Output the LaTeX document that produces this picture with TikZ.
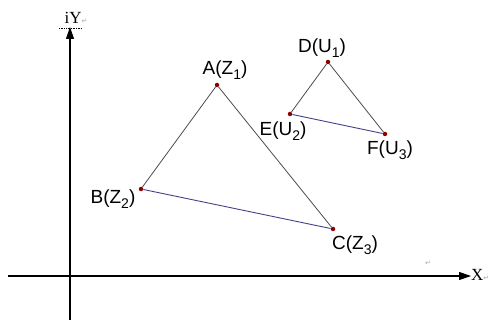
\documentclass[tikz,border=0pt]{standalone}
\usepackage{fontspec}
\setmainfont{Liberation Sans}
\newfontfamily\serifx{Liberation Serif}
\newfontfamily\symf{DejaVu Sans}
\usetikzlibrary{arrows.meta}
\newcommand{\sbx}[1]{\raisebox{-0.45ex}{\fontsize{14}{14}\selectfont #1}}
\newcommand{\pmark}{{\symf\fontsize{7}{7}\selectfont\color{gray!70}↵}}
\begin{document}
\begin{tikzpicture}[x=1pt,y=-1pt,
  axis/.style={line width=1.1pt,-{Triangle[length=12pt,width=8pt]}},
  side/.style={draw=gray!60!black,line width=0.8pt},
  base/.style={draw=blue!35!gray!80!black,line width=0.9pt},
  pt/.style={circle,fill=red!55!black,inner sep=0pt,minimum size=4.5pt},
  lbl/.style={font=\fontsize{19}{19}\selectfont,inner sep=0pt}]
\useasboundingbox (0,0) rectangle (492,320);
\coordinate (yb) at (70,320);
\coordinate (yt) at (70,27);
\coordinate (xl) at (8,276);
\coordinate (xr) at (471,276);
\draw[axis] (yb) -- (yt);
\draw[axis] (xl) -- (xr);
\node[inner sep=0pt,anchor=base,font=\serifx\fontsize{17}{17}\selectfont] (ylab) at (76,24) {iY\pmark};
\draw[densely dotted,line width=0.7pt] (59,28) -- (82,28);
\node[inner sep=0pt,anchor=west,font=\serifx\fontsize{17}{17}\selectfont] (xlab) at (471,275) {X\pmark};
\node[inner sep=0pt] (pm) at (428,263) {\pmark};
\node[pt] (A) at (217,85) {};
\node[pt] (B) at (141,189) {};
\node[pt] (C) at (333,229) {};
\node[pt] (D) at (328,62) {};
\node[pt] (E) at (290,114) {};
\node[pt] (F) at (385,134) {};
\draw[side] (A) -- (B);
\draw[side] (A) -- (C);
\draw[base] (B) -- (C);
\draw[side] (D) -- (E);
\draw[side] (D) -- (F);
\draw[base] (E) -- (F);
\node[lbl] (la) at (225,70) {A(Z\sbx{1})};
\node[lbl] (lb) at (113,199) {B(Z\sbx{2})};
\node[lbl] (lc) at (355,245) {C(Z\sbx{3})};
\node[lbl] (ld) at (322,48) {D(U\sbx{1})};
\node[lbl] (le) at (283,131) {E(U\sbx{2})};
\node[lbl] (lf) at (390,150) {F(U\sbx{3})};
\end{tikzpicture}
\end{document}
